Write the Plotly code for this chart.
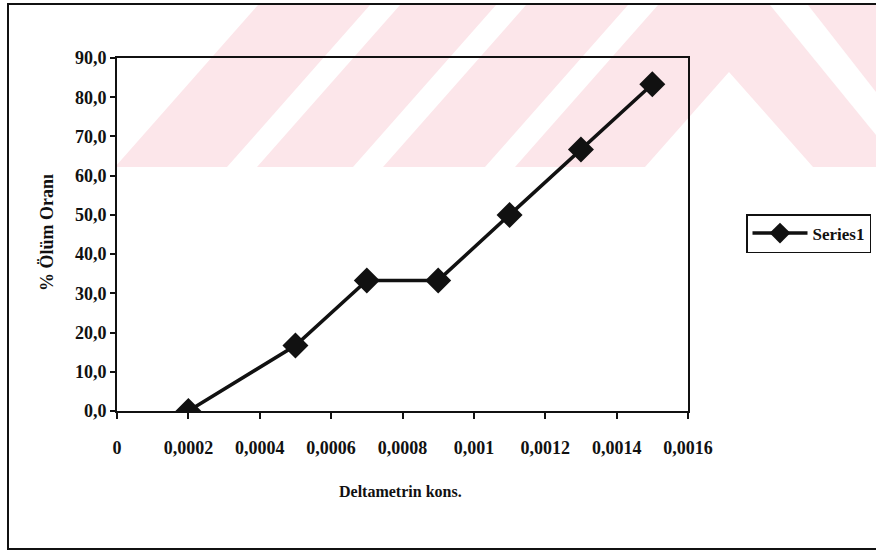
import plotly.graph_objects as go

# Mortality (%) versus deltamethrin concentration
konsantrasyon = [0.0002, 0.0005, 0.0007, 0.0009, 0.0011, 0.0013, 0.0015]
olum_orani = [0.0, 16.7, 33.3, 33.3, 50.0, 66.7, 83.3]
seri_adi = "Series1"

x_tick_vals = [0, 0.0002, 0.0004, 0.0006, 0.0008, 0.001, 0.0012, 0.0014, 0.0016]
x_tick_text = ["0", "0,0002", "0,0004", "0,0006", "0,0008", "0,001", "0,0012", "0,0014", "0,0016"]
y_tick_vals = [0, 10, 20, 30, 40, 50, 60, 70, 80, 90]

W, H = 876, 551
FONT = "Liberation Serif"
INK = "#111111"


def px(x, y):
    """Pixel position -> paper coordinates (margins are zero)."""
    return x / W, 1 - y / H


def poly(points, fill):
    d = "M " + " L ".join(f"{px(x, y)[0]:.5f},{px(x, y)[1]:.5f}" for x, y in points) + " Z"
    return dict(type="path", xref="paper", yref="paper", path=d,
                fillcolor=fill, line=dict(width=0), layer="below")


PINK = "#fce6ea"
WHITE = "#ffffff"

shapes = []
# light striped band across the top of the page
shapes.append(poly([(115, 167), (258, 5), (876, 5), (876, 167)], PINK))
for b in (227, 353, 485):
    shapes.append(poly([(b, 167), (b + 30, 167), (b + 30 + 143, 5), (b + 143, 5)], WHITE))
shapes.append(poly([(729, 72), (813, 167), (645, 167)], WHITE))
shapes.append(poly([(770, 5), (808, 5), (876, 92), (876, 135)], WHITE))

# outer chart frame (right edge runs off the page)
shapes.append(dict(type="rect", xref="paper", yref="paper",
                   x0=px(8, 0)[0], x1=px(890, 0)[0], y0=px(0, 549)[1], y1=px(0, 4)[1],
                   line=dict(color=INK, width=2), fillcolor="rgba(0,0,0,0)", layer="above"))

fig = go.Figure()
fig.add_trace(go.Scatter(
    x=konsantrasyon, y=olum_orani, name=seri_adi, mode="lines+markers",
    line=dict(color=INK, width=3.5),
    marker=dict(symbol="diamond", size=20, color=INK),
))

axis_font = dict(family=FONT, size=18, color=INK, weight="bold")

fig.update_layout(
    width=W, height=H, autosize=False,
    margin=dict(l=0, r=0, t=0, b=0, autoexpand=False),
    paper_bgcolor="rgba(0,0,0,0)", plot_bgcolor="rgba(0,0,0,0)",
    separators=", ",
    showlegend=True,
    legend=dict(x=px(746, 0)[0], y=px(0, 214)[1], xanchor="left", yanchor="top",
                bordercolor=INK, borderwidth=1.5, bgcolor="rgba(255,255,255,1)",
                font=dict(family=FONT, size=17, color=INK, weight="bold"),
                itemwidth=55),
    xaxis=dict(domain=[117 / W, 688 / W], range=[0, 0.0016], automargin=False,
               tickvals=x_tick_vals, ticktext=x_tick_text, tickfont=axis_font,
               ticks="outside", ticklen=6, tickwidth=1.5, tickcolor=INK,
               ticklabelstandoff=13,
               showline=True, linecolor=INK, linewidth=2, mirror=True,
               showgrid=False, zeroline=False),
    yaxis=dict(domain=[1 - 411 / H, 1 - 58 / H], range=[0, 90], automargin=False,
               tickvals=y_tick_vals, tickformat=".1f", tickfont=axis_font,
               ticks="outside", ticklen=5, tickwidth=1.5, tickcolor=INK,
               showline=True, linecolor=INK, linewidth=2, mirror=True,
               showgrid=False, zeroline=False),
    shapes=shapes,
    annotations=[
        dict(text="% Ölüm Oranı", textangle=-90, xref="paper", yref="paper",
             x=px(47, 0)[0], y=px(0, 233)[1], xanchor="center", yanchor="middle",
             showarrow=False,
             font=dict(family=FONT, size=18, color=INK, weight="bold")),
        dict(text="Deltametrin kons.", xref="paper", yref="paper",
             x=px(400, 0)[0], y=px(0, 491)[1], xanchor="center", yanchor="middle",
             showarrow=False,
             font=dict(family=FONT, size=16, color=INK, weight="bold")),
    ],
)

# drop the default page margin so the figure sits at the top-left corner
fig.write_html("out.html", post_script="document.body.style.margin='0';")
